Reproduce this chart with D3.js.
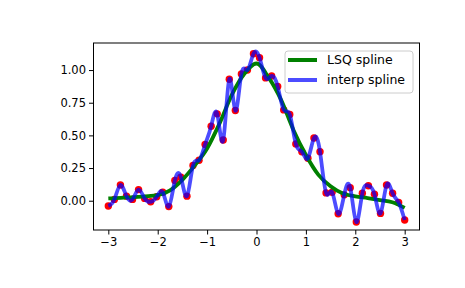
<!DOCTYPE html>
<html>
<head>
<meta charset="utf-8">
<script src="https://cdn.jsdelivr.net/npm/d3@7"></script>
<style>
  body { margin: 0; background: #fff; }
  svg { display: block; font-family: 'DejaVu Sans', sans-serif; }
</style>
</head>
<body>
<svg width="465" height="288"></svg>
<script>
const svg = d3.select('svg');

// noisy samples (x = -3..3, 50 points)
const sampleX = d3.range(50).map((i) => -3 + i * 6 / 49);
const sampleY = [
  -0.04, 0.01, 0.12, 0.035, 0.01, 0.085, 0.018, -0.008, 0.03, 0.065,
  -0.045, 0.155, 0.18, 0.035, 0.27, 0.31, 0.43, 0.57, 0.665, 0.465,
  0.93, 0.69, 0.97, 1.00, 1.125, 1.095, 0.94, 0.955, 0.875, 0.695,
  0.66, 0.435, 0.375, 0.325, 0.48, 0.375, 0.06, 0.065, -0.10, 0.045,
  0.10, -0.163, 0.057, 0.115, 0.05, -0.097, 0.12, 0.057, -0.013, -0.148,
];

// LSQ spline every 0.25
const lsqX = d3.range(25).map((i) => -3 + i * 0.25);
const lsqY = [
  0.018, 0.022, 0.028, 0.033, 0.042, 0.08, 0.16, 0.27, 0.40, 0.59,
  0.81, 0.97, 1.05, 0.94, 0.77, 0.54, 0.35, 0.20, 0.11, 0.055,
  0.033, 0.02, 0.005, -0.012, -0.055,
];

const xTicks = [-3, -2, -1, 0, 1, 2, 3];
const yTicks = [0, 0.25, 0.5, 0.75, 1.0];

const plotLeft = 93.5, plotRight = 419.5, plotTop = 43, plotBottom = 230;

const x = d3.scaleLinear().domain([-3.3, 3.3]).range([plotLeft, plotRight]);
const y = d3.scaleLinear().domain([-0.224, 1.207]).range([plotBottom, plotTop]);

const points = sampleX.map((v, i) => [v, sampleY[i]]);
const lsq = lsqX.map((v, i) => [v, lsqY[i]]);

const plot = svg.append('g');

plot.selectAll('circle')
  .data(points)
  .enter()
  .append('circle')
  .attr('cx', (d) => x(d[0]))
  .attr('cy', (d) => y(d[1]))
  .attr('r', 3.7)
  .attr('fill', '#ff0000');

const lsqLine = d3.line()
  .x((d) => x(d[0]))
  .y((d) => y(d[1]))
  .curve(d3.curveMonotoneX);

plot.append('path')
  .attr('d', lsqLine(lsq))
  .attr('fill', 'none')
  .attr('stroke', '#008000')
  .attr('stroke-width', 3.8);

//the interpolating spline goes through every sample, natural cubic
const interpLine = d3.line()
  .x((d) => x(d[0]))
  .y((d) => y(d[1]))
  .curve(d3.curveNatural);

plot.append('path')
  .attr('d', interpLine(points))
  .attr('fill', 'none')
  .attr('stroke', '#0000ff')
  .attr('stroke-opacity', 0.7)
  .attr('stroke-width', 3.8);

// axes
const xAxis = d3.axisBottom(x)
  .tickValues(xTicks)
  .tickSize(4.5)
  .tickPadding(3)
  .tickFormat((d) => d3.format('d')(d).replace('-', '\u2212'));

const yAxis = d3.axisLeft(y)
  .tickValues(yTicks)
  .tickSize(4.5)
  .tickPadding(3)
  .tickFormat(d3.format('.2f'));

const gx = svg.append('g')
  .attr('transform', `translate(0,${plotBottom})`)
  .call(xAxis);

const gy = svg.append('g')
  .attr('transform', `translate(${plotLeft},0)`)
  .call(yAxis);

[gx, gy].forEach((g) => {
  g.select('.domain').remove();
  g.selectAll('.tick line').attr('stroke', '#000').attr('stroke-width', 1);
  g.selectAll('.tick text')
    .attr('fill', '#000')
    .attr('font-size', 11.5)
    .attr('font-family', 'DejaVu Sans');
});

svg.append('rect')
  .attr('x', plotLeft)
  .attr('y', plotTop)
  .attr('width', plotRight - plotLeft)
  .attr('height', plotBottom - plotTop)
  .attr('fill', 'none')
  .attr('stroke', '#000')
  .attr('stroke-width', 1);

// legend
const legend = svg.append('g').attr('transform', 'translate(285,51)');

legend.append('rect')
  .attr('width', 128)
  .attr('height', 42)
  .attr('rx', 3)
  .attr('fill', '#fff')
  .attr('fill-opacity', 0.8)
  .attr('stroke', '#cccccc')
  .attr('stroke-width', 1);

const entries = [
  {label: 'LSQ spline', color: '#008000', opacity: 1},
  {label: 'interp spline', color: '#0000ff', opacity: 0.7},
];

const item = legend.selectAll('g.item')
  .data(entries)
  .enter()
  .append('g')
  .attr('class', 'item')
  .attr('transform', (d, i) => `translate(0,${9 + i * 20})`);

item.append('line')
  .attr('x1', 3)
  .attr('x2', 32)
  .attr('stroke', (d) => d.color)
  .attr('stroke-opacity', (d) => d.opacity)
  .attr('stroke-width', 4);

item.append('text')
  .attr('x', 42)
  .attr('dy', '0.35em')
  .attr('font-size', 12.5)
  .attr('fill', '#000')
  .text((d) => d.label);
</script>
</body>
</html>
